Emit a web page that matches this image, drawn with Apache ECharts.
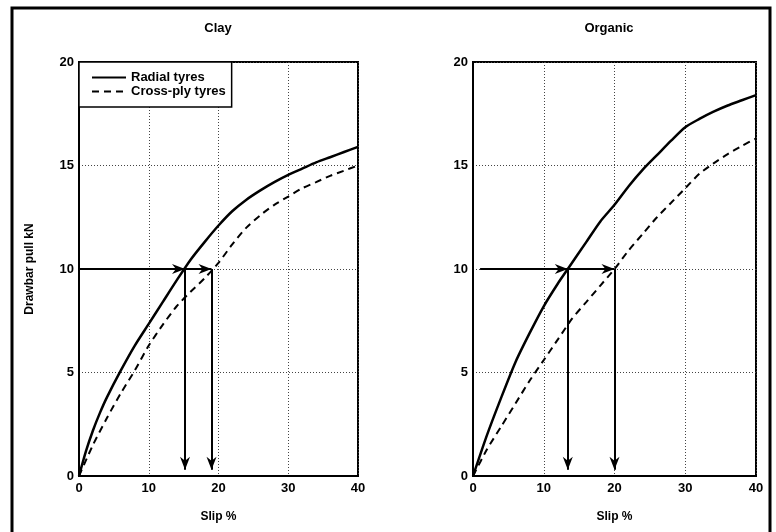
<!DOCTYPE html>
<html>
<head>
<meta charset="utf-8">
<script src="https://cdn.jsdelivr.net/npm/echarts@6/dist/echarts.min.js"></script>
<style>
  html, body { margin: 0; padding: 0; background: #fff; }
  #chart { width: 776px; height: 532px; }
</style>
</head>
<body>
<div id="chart"></div>
<script>
// Drawbar pull (kN) against wheel slip (%) for radial and cross-ply tyres
const slipTicks = [0, 10, 20, 30, 40];
const pullTicks = [0, 5, 10, 15, 20];

const clayRadialSlip = [0, 1, 2, 3, 4, 6, 8, 10, 12, 14, 16, 18, 20, 22, 24, 26, 28, 30, 32, 34, 36, 38, 40];
const clayRadialPull = [0, 1.2, 2.2, 3.05, 3.8, 5.1, 6.3, 7.35, 8.4, 9.45, 10.45, 11.3, 12.1, 12.8, 13.35, 13.8, 14.2, 14.55, 14.85, 15.15, 15.4, 15.65, 15.9];

const clayCrossSlip = [0, 2, 4, 6, 8, 10, 12, 14, 16, 18, 20, 22, 24, 26, 28, 30, 32, 34, 36, 38, 40];
const clayCrossPull = [0, 1.5, 2.8, 4.0, 5.1, 6.3, 7.3, 8.2, 8.9, 9.55, 10.3, 11.2, 12.0, 12.6, 13.1, 13.5, 13.9, 14.2, 14.5, 14.75, 15.0];

const organicRadialSlip = [0, 2, 4, 6, 8, 10, 12, 13.4, 16, 18, 20, 22, 24, 26, 28, 30, 32, 34, 36, 38, 40];
const organicRadialPull = [0, 2.0, 3.8, 5.5, 6.9, 8.2, 9.3, 10, 11.3, 12.3, 13.1, 14.0, 14.8, 15.5, 16.2, 16.85, 17.25, 17.6, 17.9, 18.15, 18.4];

const organicCrossSlip = [0, 2, 4, 6, 8, 10, 12, 14, 16, 18, 20, 22, 24, 26, 28, 30, 32, 34, 36, 38, 40];
const organicCrossPull = [0, 1.3, 2.4, 3.5, 4.6, 5.6, 6.6, 7.6, 8.4, 9.2, 10.0, 10.9, 11.7, 12.5, 13.2, 13.9, 14.6, 15.1, 15.55, 15.95, 16.3];

// Slip needed to reach a drawbar pull of 10 kN: [radial, cross-ply]
const referencePull = 10;
const claySlipAtPull = [15.2, 19.0];
const organicSlipAtPull = [13.4, 20.0];
const arrowStartSlip = [0, 1];
const arrowTipPull = [0.3, 0.3];

const FONT = '"Liberation Sans", Arial, sans-serif';
const pairs = (xs, ys) => xs.map((x, i) => [x, ys[i]]);

// Arrowhead whose tip sits at the centre of its box, so the tip lands on the line end
const arrowHead = 'path://M4,0 L4.01,0 L4,0.01 Z M4,10 L8,20 L4,17 L0,20 Z';

function arrowLines(startX, slips, tipY) {
  const [r, c] = slips;
  return [
    [{ coord: [startX, referencePull] }, { coord: [r, referencePull] }],
    [{ coord: [r, referencePull] }, { coord: [c, referencePull] }],
    [{ coord: [r, referencePull] }, { coord: [r, tipY] }],
    [{ coord: [c, referencePull] }, { coord: [c, tipY] }]
  ];
}

const tickLabel = { fontFamily: FONT, fontSize: 13, fontWeight: 'bold', color: '#000' };
const gridDots = { show: true, lineStyle: { color: '#444', width: 1, type: [1, 2] } };

function makeX(gridIndex) {
  return {
    type: 'value', gridIndex, min: slipTicks[0], max: slipTicks[slipTicks.length - 1], interval: 10,
    name: 'Slip %', nameLocation: 'middle', nameGap: 35,
    nameTextStyle: { fontFamily: FONT, fontSize: 12, fontWeight: 'bold', color: '#000' },
    axisLine: { show: true, lineStyle: { color: '#000', width: 2 } },
    axisTick: { show: false },
    axisLabel: Object.assign({ margin: 6 }, tickLabel),
    splitLine: gridDots
  };
}
function makeY(gridIndex, withName) {
  return {
    type: 'value', gridIndex, min: pullTicks[0], max: pullTicks[pullTicks.length - 1], interval: 5,
    name: withName ? 'Drawbar pull kN' : '', nameLocation: 'middle', nameGap: 43, nameRotate: 90,
    nameTextStyle: { fontFamily: FONT, fontSize: 12, fontWeight: 'bold', color: '#000' },
    axisLine: { show: true, lineStyle: { color: '#000', width: 2 } },
    axisTick: { show: false },
    axisLabel: Object.assign({ margin: 5 }, tickLabel),
    splitLine: gridDots
  };
}

const markLineStyle = (data) => ({
  silent: true,
  symbol: ['none', arrowHead],
  symbolSize: [10, 26],
  label: { show: false },
  emphasis: { disabled: true },
  lineStyle: { color: '#000', width: 2, type: 'solid' },
  data
});

const solid = { color: '#000', width: 2.5, type: 'solid' };
const dashed = { color: '#000', width: 2, type: [7, 5] };

const chart = echarts.init(document.getElementById('chart'), null, { renderer: 'canvas' });
chart.setOption({
  backgroundColor: '#fff',
  animation: false,
  grid: [
    { left: 79, right: 418, top: 62, bottom: 56, show: true, borderColor: '#000', borderWidth: 2 },
    { left: 473, right: 20, top: 62, bottom: 56, show: true, borderColor: '#000', borderWidth: 2 }
  ],
  xAxis: [makeX(0), makeX(1)],
  yAxis: [makeY(0, true), makeY(1, false)],
  legend: {
    left: 79, top: 62, orient: 'vertical',
    data: ['Radial tyres', 'Cross-ply tyres'],
    itemWidth: 34, itemHeight: 14, itemGap: 1,
    padding: [9, 6, 9, 12],
    borderColor: '#000', borderWidth: 1.5, backgroundColor: '#fff',
    selectedMode: false,
    itemStyle: { color: 'rgba(0,0,0,0)', borderWidth: 0 },
    textStyle: { fontFamily: FONT, fontSize: 13, fontWeight: 'bold', color: '#000' }
  },
  graphic: [
    { type: 'rect', shape: { x: 12, y: 8, width: 758, height: 540 }, style: { fill: 'none', stroke: '#000', lineWidth: 3 }, silent: true },
    { type: 'text', x: 218, y: 22, style: { text: 'Clay', font: 'bold 13px ' + FONT, fill: '#000', align: 'center' }, silent: true },
    { type: 'text', x: 609, y: 22, style: { text: 'Organic', font: 'bold 13px ' + FONT, fill: '#000', align: 'center' }, silent: true }
  ],
  series: [
    { name: 'Radial tyres', type: 'line', xAxisIndex: 0, yAxisIndex: 0, symbol: 'none', smooth: 0.25, lineStyle: solid, itemStyle: { color: '#000' },
      data: pairs(clayRadialSlip, clayRadialPull), markLine: markLineStyle(arrowLines(arrowStartSlip[0], claySlipAtPull, arrowTipPull[0])) },
    { name: 'Cross-ply tyres', type: 'line', xAxisIndex: 0, yAxisIndex: 0, symbol: 'none', smooth: 0.25, lineStyle: dashed, itemStyle: { color: '#000' },
      data: pairs(clayCrossSlip, clayCrossPull) },
    { name: 'Radial tyres', type: 'line', xAxisIndex: 1, yAxisIndex: 1, symbol: 'none', smooth: 0.25, lineStyle: solid, itemStyle: { color: '#000' },
      data: pairs(organicRadialSlip, organicRadialPull), markLine: markLineStyle(arrowLines(arrowStartSlip[1], organicSlipAtPull, arrowTipPull[1])) },
    { name: 'Cross-ply tyres', type: 'line', xAxisIndex: 1, yAxisIndex: 1, symbol: 'none', smooth: 0.25, lineStyle: dashed, itemStyle: { color: '#000' },
      data: pairs(organicCrossSlip, organicCrossPull) }
  ]
});
</script>
</body>
</html>
